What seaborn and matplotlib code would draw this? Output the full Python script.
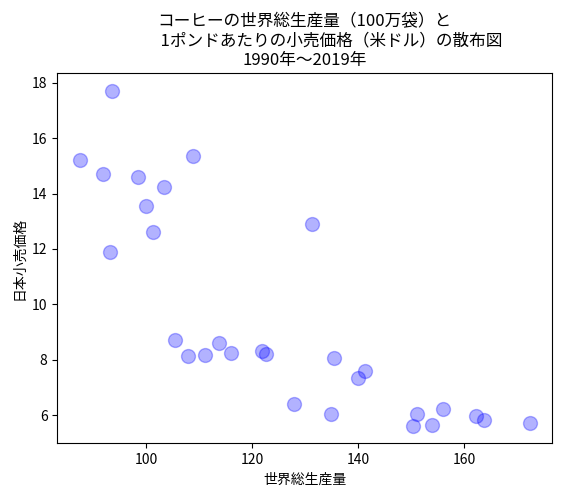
import matplotlib
matplotlib.use("Agg")
import matplotlib.pyplot as plt
import seaborn as sns
import pandas as pd

# 世界総生産量（100万袋）
production = [87.4, 91.9, 93.5, 93.2, 98.5, 100.0, 103.4, 101.3, 108.9,
              105.4, 107.9, 111.1, 113.7, 116.0, 121.9, 122.6, 131.3,
              127.9, 134.9, 135.5, 140.0, 141.3, 150.4, 151.1, 154.0,
              156.0, 162.3, 163.7, 172.5]

# 日本小売価格（米ドル / ポンド）
price = [15.23, 14.69, 17.72, 11.88, 14.59, 13.55, 14.23, 12.63, 15.34,
         8.73, 8.13, 8.16, 8.59, 8.24, 8.31, 8.20, 12.92,
         6.39, 6.06, 8.08, 7.35, 7.59, 5.60, 6.06, 5.66,
         6.22, 5.96, 5.82, 5.70]

df = pd.DataFrame({"世界総生産量": production, "日本小売価格": price})

plt.rcParams["font.family"] = ["Noto Sans CJK JP", "DejaVu Sans"]

fig, ax = plt.subplots(figsize=(5.62, 4.96), dpi=100)
fig.subplots_adjust(left=0.102, right=0.983, bottom=0.106, top=0.852)

sns.scatterplot(data=df, x="世界総生産量", y="日本小売価格", ax=ax,
                color="blue", alpha=0.3, s=100, edgecolor="blue", linewidth=1)

ax.set_xlim(83.2, 176.7)
ax.set_ylim(4.98, 18.34)
ax.set_xticks([100, 120, 140, 160])
ax.set_yticks([6, 8, 10, 12, 14, 16, 18])

ax.set_title("コーヒーの世界総生産量（100万袋）と\n"
             "              1ポンドあたりの小売価格（米ドル）の散布図\n"
             "1990年～2019年", fontsize=12)

fig.savefig("out.png", dpi=100)
